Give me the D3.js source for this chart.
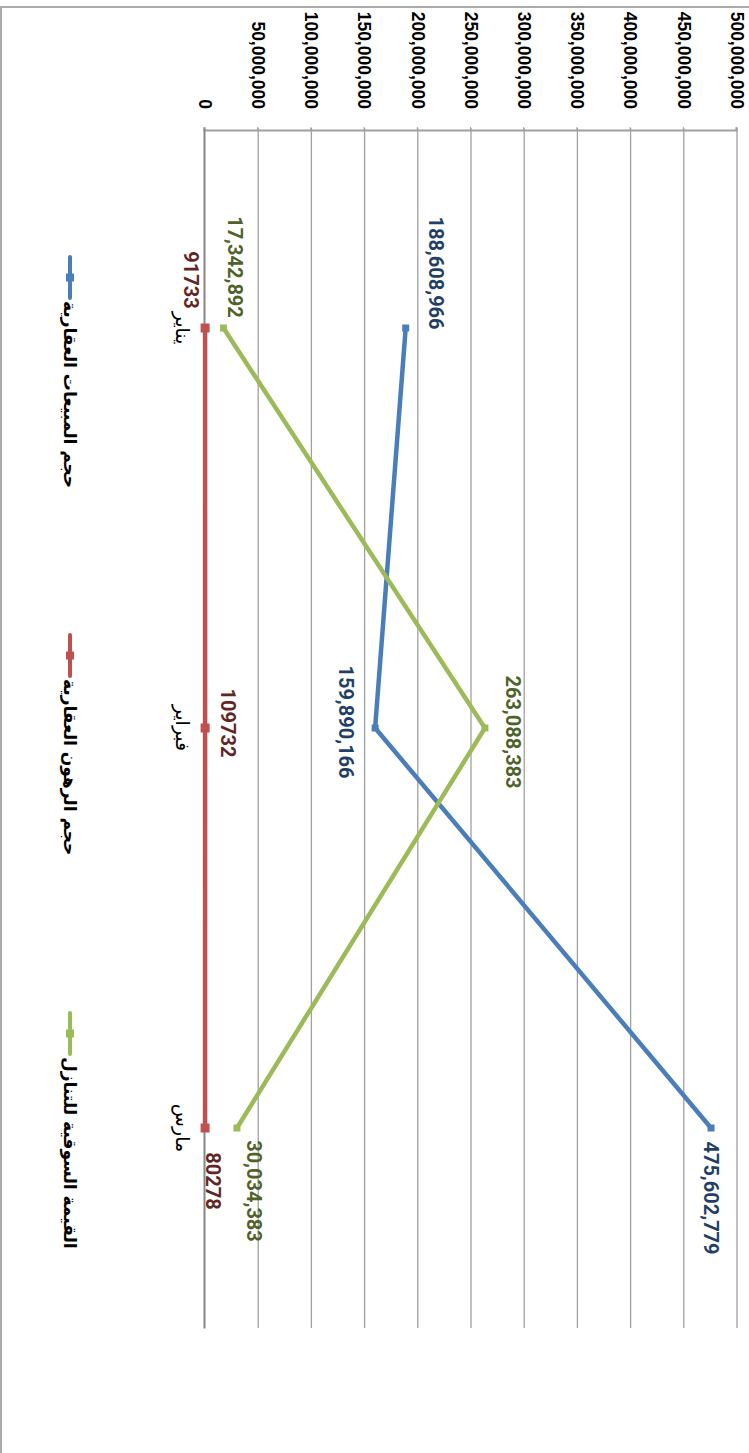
<!DOCTYPE html>
<html>
<head>
<meta charset="utf-8">
<script src="https://cdn.jsdelivr.net/npm/d3@7"></script>
<style>
  html, body { margin: 0; padding: 0; background: #fff; }
  svg { display: block; }
</style>
</head>
<body>
<svg id="chart" width="749" height="1453"></svg>
<script>
// ---------- data ----------
const categories = ["يناير", "فبراير", "مارس"];
const seriesNames = ["حجم المبيعات العقارية", "حجم الرهون العقارية", "القيمة السوقية للتنازل"];
const salesVolume = [188608966, 159890166, 475602779];
const mortgageVolume = [91733, 109732, 80278];
const transferValue = [17342892, 263088383, 30034383];
const valueTicks = [0, 50000000, 100000000, 150000000, 200000000, 250000000, 300000000, 350000000, 400000000, 450000000, 500000000];

// ---------- styles / layout (not data) ----------
const W = 749, H = 1453;
const colors = ["#4A7EBB", "#C0504D", "#9BBB59"];
const labelColors = ["#1F3F66", "#632523", "#4F6228"];
const labelFormats = [d3.format(","), d3.format("d"), d3.format(",")];
// label centre offsets relative to the point, in the chart's own (unrotated) frame
const labelOffsets = [
  [[-55, -30], [-6, 29], [70, 0]],
  [[-48, 14], [-5, -23], [53, -8]],
  [[-61, -12], [4, -28], [63, -17]]
];

const series = [salesVolume, mortgageVolume, transferValue];

const svg = d3.select("#chart");
// whole chart is drawn in a normal frame (1453 wide x 749 high) then turned 90° clockwise
const g = svg.append("g").attr("transform", `translate(${W},0) rotate(90)`);
const CW = H, CH = W;

// outer chart border
g.append("rect")
  .attr("x", 7).attr("y", -10)
  .attr("width", CW + 20).attr("height", CH + 9)
  .attr("fill", "none").attr("stroke", "#ABABAB").attr("stroke-width", 2);

const x = d3.scaleBand().domain(categories).range([128, 1328]);
const y = d3.scaleLinear().domain([0, 500000000]).range([CH - 205, CH - 737]);
const cx = d => x(d) + x.bandwidth() / 2;

// gridlines
g.append("g").selectAll("line").data(valueTicks.slice(1)).join("line")
  .attr("x1", 128).attr("x2", 1328)
  .attr("y1", d => y(d)).attr("y2", d => y(d))
  .attr("stroke", "#A0A0A0").attr("stroke-width", 1.3);

// value axis
const yAxis = d3.axisLeft(y).tickValues(valueTicks).tickFormat(d3.format(",")).tickSize(3).tickPadding(18);
const ya = g.append("g").attr("transform", "translate(130,0)").call(yAxis);
ya.select(".domain").attr("stroke", "#A0A0A0").attr("stroke-width", 2);
ya.selectAll(".tick line").attr("stroke", "#A0A0A0");
ya.selectAll(".tick text")
  .attr("fill", "#000")
  .style("font-family", "'Liberation Sans', Arial, sans-serif")
  .style("font-weight", "bold")
  .style("font-size", "17.5px");

// category axis
const xAxis = d3.axisBottom(x).tickSize(0).tickPadding(16);
const xa = g.append("g").attr("transform", `translate(0,${y(0)})`).call(xAxis);
xa.select(".domain").attr("stroke", "#868686").attr("stroke-width", 2);
xa.selectAll(".tick text")
  .attr("fill", "#000")
  .style("font-family", "'DejaVu Sans', sans-serif")
  .style("font-size", "19px");

// lines + markers + labels
const line = d3.line().x((d, i) => cx(categories[i])).y(d => y(d));
series.forEach((vals, s) => {
  const sg = g.append("g");
  sg.append("path").datum(vals)
    .attr("d", line)
    .attr("fill", "none")
    .attr("stroke", colors[s])
    .attr("stroke-width", 4.5)
    .attr("stroke-linejoin", "round");
  const ms = s === 1 ? 9 : 7;
  sg.selectAll("rect.m").data(vals).join("rect")
    .attr("class", "m")
    .attr("x", (d, i) => cx(categories[i]) - ms / 2)
    .attr("y", d => y(d) - ms / 2)
    .attr("width", ms).attr("height", ms)
    .attr("fill", colors[s]);
  sg.selectAll("text.l").data(vals).join("text")
    .attr("class", "l")
    .attr("x", (d, i) => cx(categories[i]) + labelOffsets[s][i][0])
    .attr("y", (d, i) => y(d) + labelOffsets[s][i][1])
    .attr("text-anchor", "middle")
    .attr("dominant-baseline", "central")
    .attr("fill", labelColors[s])
    .style("font-family", "Roboto, 'Liberation Sans', sans-serif")
    .style("font-weight", "bold")
    .style("font-size", "20px")
    .text(d => labelFormats[s](d));
});

// legend
const legendY = CH - 70;
const lg = g.append("g");
seriesNames.forEach((name, s) => {
  const x0 = 257 + s * 378;
  lg.append("line")
    .attr("x1", x0).attr("x2", x0 + 41)
    .attr("y1", legendY).attr("y2", legendY)
    .attr("stroke", colors[s]).attr("stroke-width", 4).attr("stroke-linecap", "round");
  lg.append("rect")
    .attr("x", x0 + 20.5 - 4).attr("y", legendY - 4)
    .attr("width", 8).attr("height", 8)
    .attr("fill", colors[s]);
  lg.append("text")
    .attr("x", x0 + 44).attr("y", legendY)
    .attr("dominant-baseline", "central")
    .attr("text-anchor", "start")
    .attr("fill", "#000")
    .style("font-family", "'DejaVu Sans', sans-serif")
    .style("font-weight", "bold")
    .style("font-size", "17px")
    .text(name);
});
</script>
</body>
</html>
